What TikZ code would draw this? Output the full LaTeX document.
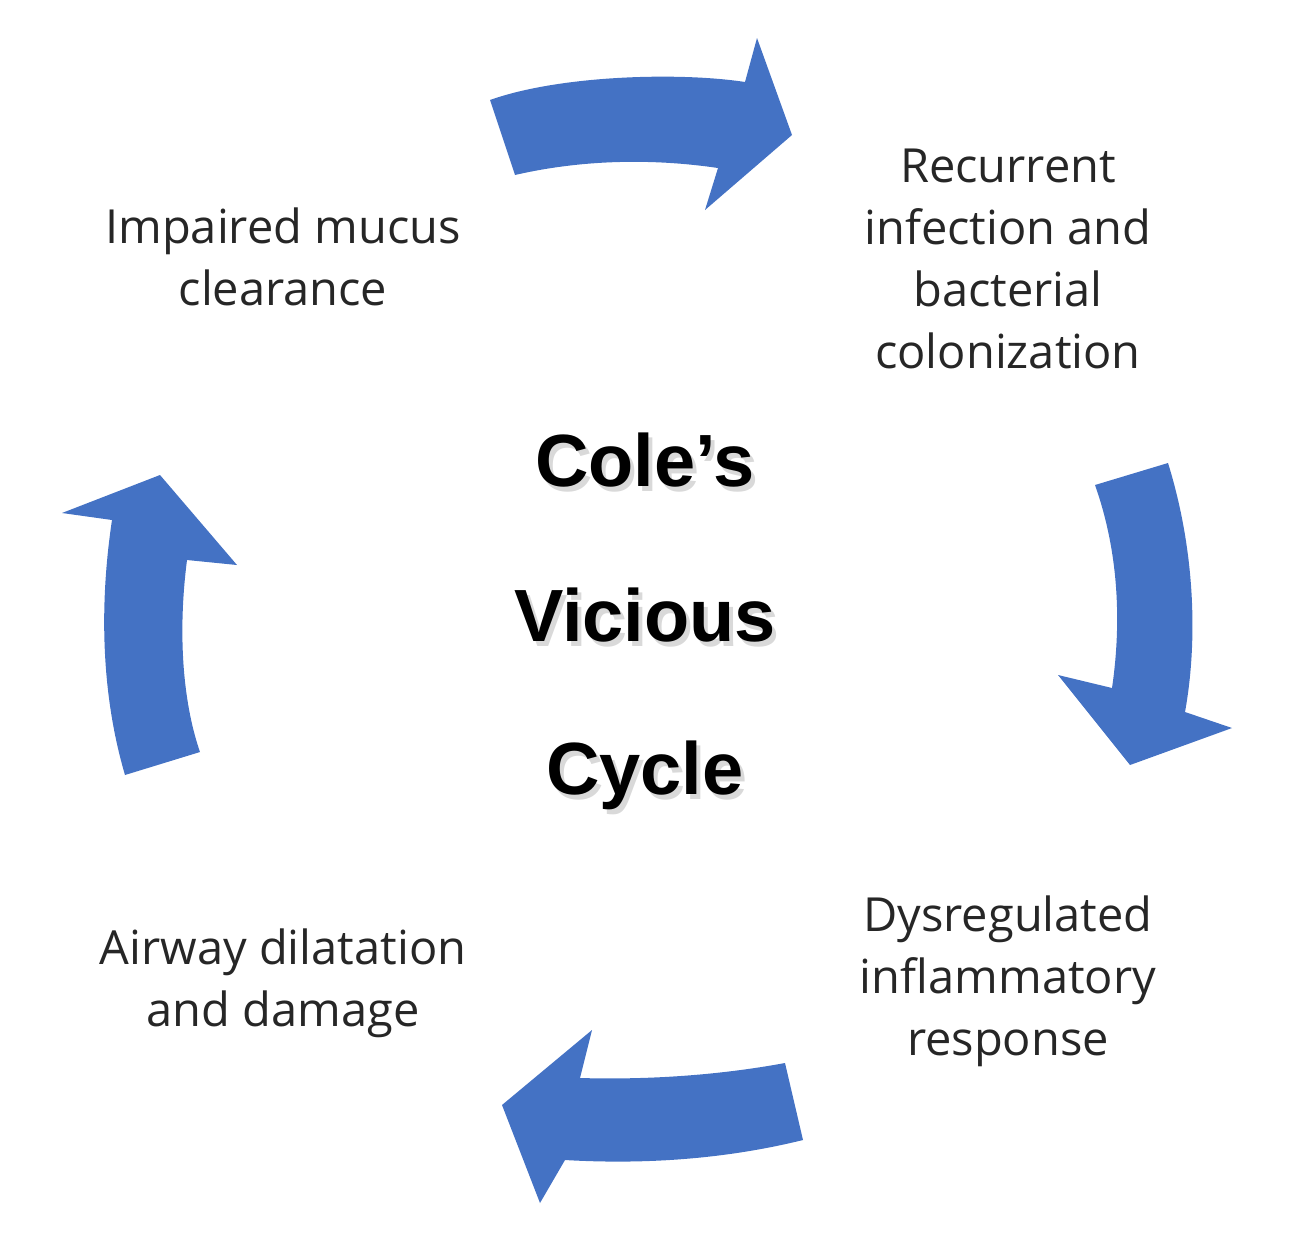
\documentclass[tikz,border=0pt]{standalone}
\usepackage{fontspec}
\setmainfont{Open Sans}
\newfontfamily\titlefont{Liberation Sans}
\usetikzlibrary{positioning}
\definecolor{cyclblue}{RGB}{68,114,196}
\tikzset{
  steptext/.style={align=center,font=\fontsize{47}{62}\selectfont,text=black!85},
  titletext/.style={font=\titlefont\bfseries\fontsize{74}{80}\selectfont},
  bigarrow/.style={fill=cyclblue,draw=none}
}
\begin{document}
\begin{tikzpicture}[x=1pt,y=-1pt]
\useasboundingbox (0,0) rectangle (1290,1248);

% curved arrows
\path[bigarrow] (490,100) .. controls (560,75) and (680,72) .. (745,82) -- (757,38) -- (792,135) -- (705,210) -- (718,168) .. controls (650,158) and (580,160) .. (515,175) -- cycle;
\path[bigarrow] (1168,463) .. controls (1195,550) and (1198,640) .. (1185,712) -- (1232,728) -- (1130,765) -- (1058,675) -- (1112,688) .. controls (1122,620) and (1118,550) .. (1095,485) -- cycle;
\path[bigarrow] (785,1063) .. controls (720,1075) and (650,1080) .. (580,1078) -- (592,1030) -- (502,1105) -- (540,1203) -- (565,1160) .. controls (650,1165) and (730,1158) .. (803,1140) -- cycle;
\path[bigarrow] (125,775) .. controls (100,690) and (100,600) .. (112,520) -- (62,513) -- (160,475) -- (237,565) -- (187,560) .. controls (178,630) and (182,700) .. (200,752) -- cycle;

% steps
\node[steptext] (mucus) at (283,257) {Impaired mucus\\clearance};
\node[steptext] (infect) at (1008,259) {Recurrent\\infection and\\bacterial\\colonization};
\node[steptext] (inflam) at (1008,981) {Dysregulated\\inflammatory\\response};
\node[steptext] (airway) at (283,983) {Airway dilatation\\and damage};

% title with soft shadow
\foreach \w/\y [count=\i] in {Cole’s/460,Vicious/615,Cycle/775} {
  \node[titletext,text=black!15] at (649,\y+5) {\w};
  \node[titletext] (title\i) at (645,\y) {\w};
}
\end{tikzpicture}
\end{document}
